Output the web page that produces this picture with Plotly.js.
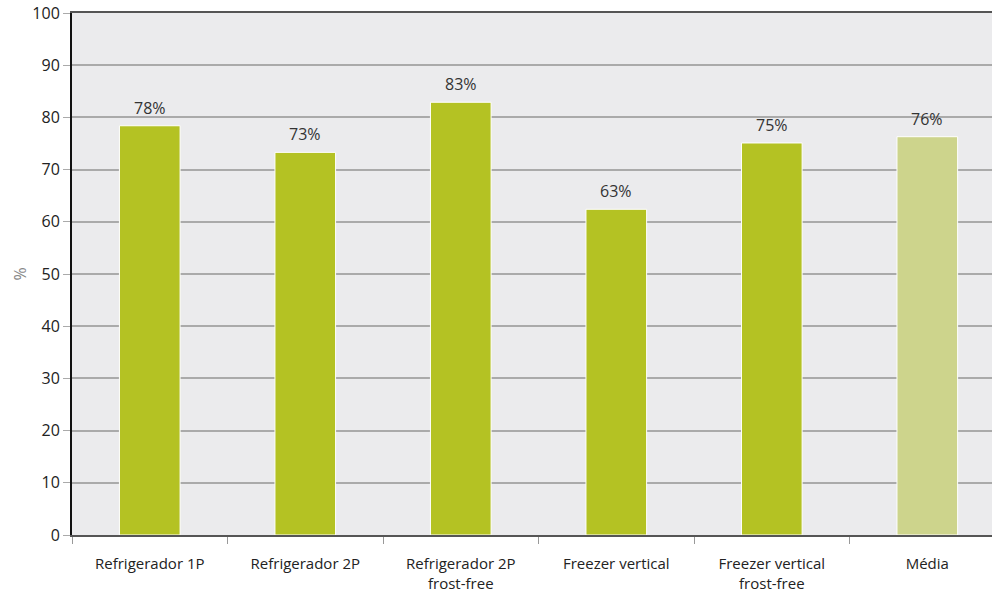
<!DOCTYPE html>
<html>
<head>
<meta charset="utf-8">
<script src="https://cdn.plot.ly/plotly-3.0.1.min.js"></script>
<style>html,body{margin:0;padding:0;background:#fff;}#chart{width:992px;height:596px;}</style>
</head>
<body>
<div id="chart"></div>
<script>
const categories = ["Refrigerador 1P", "Refrigerador 2P", "Refrigerador 2P<br>frost-free", "Freezer vertical", "Freezer vertical<br>frost-free", "Média"];
const values = [78.4, 73.3, 82.9, 62.4, 75.1, 76.3];
const labels = ["78%", "73%", "83%", "63%", "75%", "76%"];
const barColors = ["#b4c223", "#b4c223", "#b4c223", "#b4c223", "#b4c223", "#cdd48c"];

const trace = {
  type: "bar",
  x: categories,
  y: values,
  cliponaxis: false,
  width: 0.39,
  marker: {color: barColors, line: {color: "#ffffff", width: 1}},
  hoverinfo: "skip"
};

const annotations = categories.map((c, i) => ({
  x: c, y: values[i], xref: "x", yref: "y",
  text: labels[i], showarrow: false,
  yanchor: "bottom", yshift: 5,
  font: {family: "Open Sans, sans-serif", size: 16, color: "#333"}
}));

const layout = {
  width: 992, height: 596,
  margin: {l: 72, r: 0, t: 13, b: 61, pad: 0},
  paper_bgcolor: "#ffffff",
  plot_bgcolor: "#ebebed",
  showlegend: false,
  font: {family: "Open Sans, sans-serif", size: 15, color: "#222"},
  annotations: annotations,
  xaxis: {
    type: "category",
    range: [-0.5, 5.416],
    showgrid: false,
    showline: true, linecolor: "#555", linewidth: 2,
    mirror: true,
    ticks: "outside", tickson: "boundaries", ticklen: 7, tickcolor: "#999", tickwidth: 1,
    tickfont: {size: 15, color: "#222"},
    ticklabelstandoff: 14,
    fixedrange: true
  },
  yaxis: {
    range: [0, 100],
    dtick: 10,
    showgrid: true, gridcolor: "#aaaaaa", gridwidth: 2,
    zeroline: false,
    showline: true, linecolor: "#111", linewidth: 2,
    ticks: "outside", ticklen: 7, tickcolor: "#aaa", tickwidth: 1,
    tickfont: {size: 16, color: "#222"},
    title: {text: "%", font: {size: 16, color: "#888"}, standoff: 2},
    fixedrange: true
  },
  bargap: 0.61
};

Plotly.newPlot("chart", [trace], layout, {displayModeBar: false, staticPlot: true});
</script>
</body>
</html>
